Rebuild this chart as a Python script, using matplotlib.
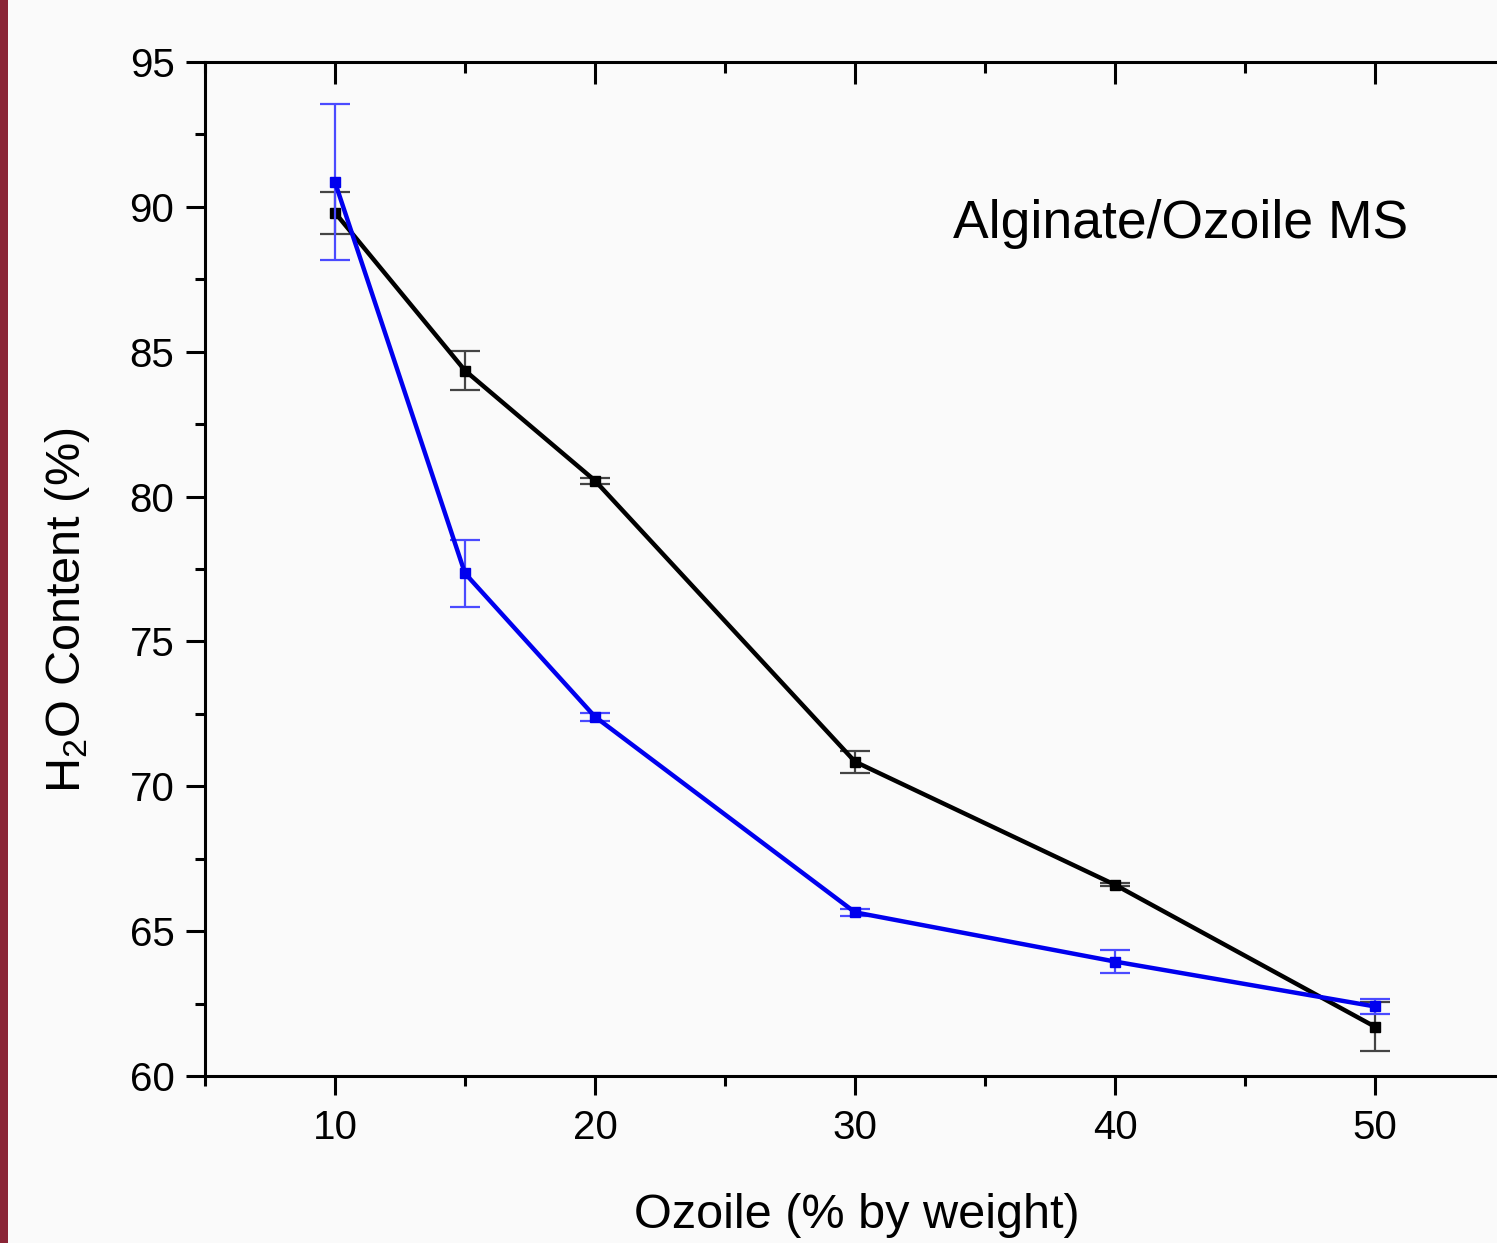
import matplotlib
matplotlib.use("Agg")
import matplotlib.pyplot as plt
from matplotlib.patches import Rectangle
from matplotlib.ticker import MultipleLocator

# values
ozoile = [10, 15, 20, 30, 40, 50]
h2o_black = [89.8, 84.35, 80.55, 70.85, 66.6, 61.7]
err_black = [0.72, 0.68, 0.1, 0.38, 0.05, 0.85]
h2o_blue = [90.85, 77.35, 72.4, 65.65, 63.95, 62.4]
err_blue = [2.7, 1.15, 0.13, 0.12, 0.4, 0.25]

xticks = [10, 20, 30, 40, 50]
panel_label = "Alginate/Ozoile MS"

plt.rcParams["font.family"] = ["Liberation Sans", "DejaVu Sans"]
plt.rcParams["mathtext.default"] = "regular"

bg = "#fafafa"
fig = plt.figure(figsize=(14.97, 12.43), dpi=100, facecolor=bg)
# maroon stripe on the left edge of the slide
fig.patches.append(Rectangle((0, 0), 8 / 1497, 1, transform=fig.transFigure,
                             facecolor="#8a2536", edgecolor="none", zorder=0))

ax = fig.add_axes([205 / 1497, 1 - 1076 / 1243, 1430 / 1497, 1014 / 1243])
ax.set_facecolor(bg)

ax.errorbar(ozoile, h2o_black, yerr=err_black, color="black", lw=3.2,
            marker="s", ms=6.5, ecolor="#444444", elinewidth=1.6,
            capsize=10.5, capthick=1.6, zorder=3)
ax.errorbar(ozoile, h2o_blue, yerr=err_blue, color="#0000ee", lw=3.2,
            marker="s", ms=6.5, ecolor="#4a4aff", elinewidth=1.6,
            capsize=10.5, capthick=1.6, zorder=4)

ax.set_xlim(5, 60)
ax.set_ylim(60, 95)
ax.set_xticks(xticks)
ax.xaxis.set_minor_locator(MultipleLocator(5))
ax.yaxis.set_major_locator(MultipleLocator(5))
ax.yaxis.set_minor_locator(MultipleLocator(2.5))

for s in ax.spines.values():
    s.set_linewidth(2.2)
ax.spines["right"].set_visible(False)

ax.tick_params(axis="both", which="major", length=14, width=2.2,
               labelsize=29, direction="out")
ax.tick_params(axis="both", which="minor", length=7, width=2.2, direction="out")
ax.tick_params(axis="x", which="both", top=True, pad=10)
ax.tick_params(axis="y", which="both", pad=8)

# top ticks point inward, like the mirrored Origin axis
for t in ax.xaxis.get_major_ticks():
    t.tick2line.set_marker(matplotlib.lines.TICKDOWN)
    t.tick2line.set_markersize(16)
for t in ax.xaxis.get_minor_ticks():
    t.tick2line.set_marker(matplotlib.lines.TICKDOWN)
    t.tick2line.set_markersize(8)

ax.set_xlabel("Ozoile (% by weight)", fontsize=35)
ax.set_ylabel("H$_2$O Content (%)", fontsize=35)
ax.xaxis.set_label_coords((857 - 205) / 1430, -0.115)
ax.yaxis.set_label_coords(-0.079, (1076 - 610) / 1014)

ax.text(33.75, 89.4, panel_label, fontsize=38.5, ha="left", va="center")

fig.savefig("out.png", dpi=100, facecolor=bg)
